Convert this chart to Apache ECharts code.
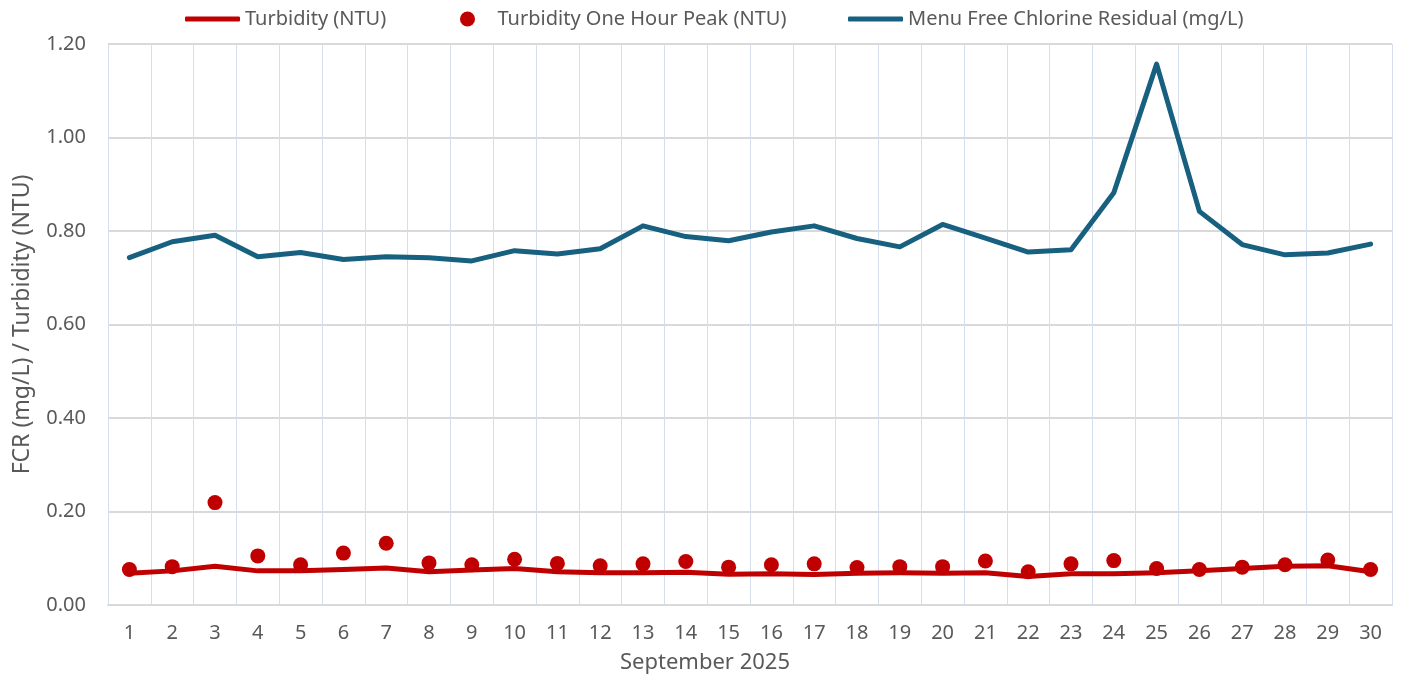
<!DOCTYPE html>
<html>
<head>
<meta charset="utf-8">
<title>September 2025</title>
<script src="https://cdn.jsdelivr.net/npm/echarts@6/dist/echarts.min.js"></script>
<style>
  html, body { margin: 0; padding: 0; background: #fff; }
  #chart { width: 1406px; height: 680px; }
</style>
</head>
<body>
<div id="chart"></div>
<script>
const days = ['1', '2', '3', '4', '5', '6', '7', '8', '9', '10', '11', '12', '13', '14', '15',
  '16', '17', '18', '19', '20', '21', '22', '23', '24', '25', '26', '27', '28', '29', '30']

const turbidity = [0.068, 0.073, 0.083, 0.073, 0.073, 0.076, 0.079, 0.071, 0.075, 0.078,
  0.071, 0.069, 0.069, 0.070, 0.066, 0.067, 0.065, 0.068, 0.069, 0.068,
  0.069, 0.061, 0.067, 0.067, 0.069, 0.073, 0.078, 0.083, 0.084, 0.071]

const turbidityPeak = [0.076, 0.082, 0.219, 0.105, 0.086, 0.111, 0.132, 0.090, 0.086, 0.098,
  0.089, 0.084, 0.088, 0.093, 0.081, 0.086, 0.088, 0.080, 0.082, 0.082,
  0.094, 0.071, 0.088, 0.095, 0.078, 0.076, 0.081, 0.086, 0.096, 0.076]

const chlorine = [0.743, 0.777, 0.791, 0.745, 0.754, 0.739, 0.745, 0.743, 0.736, 0.758,
  0.751, 0.762, 0.811, 0.788, 0.779, 0.798, 0.811, 0.784, 0.766, 0.814,
  0.785, 0.755, 0.760, 0.882, 1.157, 0.842, 0.771, 0.749, 0.753, 0.772]

const yTicks = { min: 0, max: 1.2, interval: 0.2 }

const fontFamily = '"Noto Sans", "Open Sans", sans-serif'
const textColor = '#595959'
const red = '#c00000'
const blue = '#17607f'

const chart = echarts.init(document.getElementById('chart'))

const legendText = { color: textColor, fontSize: 20, fontFamily: fontFamily }

chart.setOption({
  animation: false,
  legend: [
    {
      left: 180, top: 4,
      itemWidth: 55, itemHeight: 5, itemGap: 0,
      textStyle: legendText,
      data: [{ name: 'Turbidity (NTU)', icon: 'roundRect' }]
    },
    {
      // wide item box leaves a gap between the dot and its text
      left: 455, top: 4,
      itemWidth: 50, itemHeight: 15, itemGap: 0,
      textStyle: legendText,
      data: [{ name: 'Turbidity One Hour Peak (NTU)', icon: 'circle' }]
    },
    {
      left: 843, top: 4,
      itemWidth: 55, itemHeight: 5, itemGap: 0,
      textStyle: legendText,
      data: [{ name: 'Menu Free Chlorine Residual (mg/L)', icon: 'roundRect' }]
    }
  ],
  grid: {
    left: 108,
    right: 14,
    top: 44,
    bottom: 75,
    containLabel: false
  },
  xAxis: {
    type: 'category',
    data: days,
    boundaryGap: true,
    name: 'September 2025',
    nameLocation: 'middle',
    nameGap: 47,
    nameTextStyle: {
      color: textColor, fontSize: 22, fontFamily: fontFamily,
      padding: [0, 90, 0, 0]
    },
    axisLine: { show: true, lineStyle: { color: '#d9d9d9', width: 2 } },
    axisTick: { show: false },
    axisLabel: { color: textColor, fontSize: 20, fontFamily: fontFamily, margin: 18, interval: 0 },
    splitLine: { show: true, interval: 0, lineStyle: { color: '#d3deef', width: 1 } }
  },
  yAxis: {
    type: 'value',
    min: yTicks.min,
    max: yTicks.max,
    interval: yTicks.interval,
    name: 'FCR (mg/L) / Turbidity (NTU)',
    nameLocation: 'middle',
    nameGap: 74,
    nameTextStyle: { color: textColor, fontSize: 23, fontFamily: fontFamily },
    axisLine: { show: false },
    axisTick: { show: false },
    axisLabel: {
      color: textColor, fontSize: 20, fontFamily: fontFamily, margin: 22,
      formatter: (v) => v.toFixed(2)
    },
    splitLine: { show: true, lineStyle: { color: '#d9d9d9', width: 2 } }
  },
  series: [
    {
      name: 'Turbidity (NTU)',
      type: 'line',
      data: turbidity,
      symbol: 'none',
      itemStyle: { color: red },
      lineStyle: { color: red, width: 5, join: 'round', cap: 'round' },
      z: 3
    },
    {
      name: 'Turbidity One Hour Peak (NTU)',
      type: 'scatter',
      data: turbidityPeak,
      symbol: 'circle',
      symbolSize: 15,
      itemStyle: { color: red, opacity: 1 },
      z: 4
    },
    {
      name: 'Menu Free Chlorine Residual (mg/L)',
      type: 'line',
      data: chlorine,
      symbol: 'none',
      itemStyle: { color: blue },
      lineStyle: { color: blue, width: 5, join: 'round', cap: 'round' },
      z: 3
    }
  ]
})
</script>
</body>
</html>
